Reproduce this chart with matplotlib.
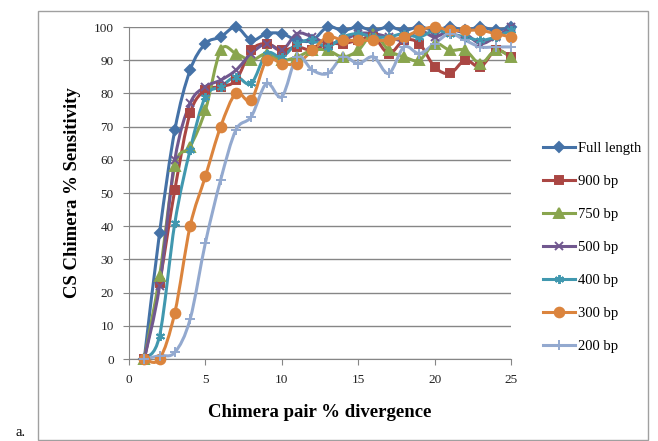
import numpy as np
import matplotlib
matplotlib.use("Agg")
import matplotlib.pyplot as plt
from matplotlib.path import Path
from matplotlib.patches import PathPatch, Rectangle
from matplotlib.lines import Line2D

# chimera pair % divergence (x) and sensitivity per read length
divergence = list(range(1, 26))
full_length = [0, 38, 69, 87, 95, 97, 100, 96, 98, 98, 96, 96, 100, 99, 100, 99, 100, 99, 100, 99, 100, 99, 100, 99, 100]
bp900 = [0, 23, 51, 74, 81, 82, 84, 93, 95, 93, 94, 93, 95, 95, 96, 97, 92, 96, 95, 88, 86, 90, 88, 93, 91]
bp750 = [0, 25, 58, 64, 75, 93, 92, 90, 92, 90, 91, 93, 93, 91, 93, 98, 93, 91, 90, 95, 93, 93, 89, 93, 91]
bp500 = [0, 22, 60, 77, 82, 84, 87, 92, 95, 93, 98, 97, 95, 96, 98, 98, 97, 96, 99, 97, 99, 98, 95, 97, 100]
bp400 = [0, 7, 41, 63, 79, 82, 85, 83, 92, 91, 95, 96, 94, 97, 98, 97, 97, 98, 97, 99, 98, 97, 96, 97, 99]
bp300 = [0, 0, 14, 40, 55, 70, 80, 78, 90, 89, 89, 93, 97, 96, 96, 96, 96, 97, 99, 100, 99, 99, 99, 98, 97]
bp200 = [0, 1, 2, 12, 35, 54, 69, 73, 83, 79, 91, 87, 86, 91, 89, 91, 86, 94, 92, 95, 98, 96, 94, 94, 94]

labels = ["Full length", "900 bp", "750 bp", "500 bp", "400 bp", "300 bp", "200 bp"]
values = [full_length, bp900, bp750, bp500, bp400, bp300, bp200]
colors = ["#4572A7", "#AA4643", "#89A54E", "#71588F", "#4198AF", "#DB843D", "#93A9CF"]
markers = ["D", "s", "^", "x", (6, 2, 0), "o", "+"]
msizes = [5, 6, 6.5, 6, 6.5, 7, 7]


def smooth_path(xs, ys):
    # excel-style smoothed line (cubic bezier through the points)
    pts = np.column_stack([xs, ys]).astype(float)
    n = len(pts)
    verts = [pts[0]]
    codes = [Path.MOVETO]
    for i in range(n - 1):
        p0 = pts[i - 1] if i > 0 else pts[i]
        p1 = pts[i]
        p2 = pts[i + 1]
        p3 = pts[i + 2] if i + 2 < n else pts[i + 1]
        verts += [p1 + (p2 - p0) / 6, p2 - (p3 - p1) / 6, p2]
        codes += [Path.CURVE4] * 3
    return Path(verts, codes)


plt.rcParams['font.family'] = ['Liberation Serif', 'DejaVu Serif']

fig = plt.figure(figsize=(6.58, 4.41), dpi=100)
ax = fig.add_axes([129 / 658, 1 - 359 / 441, 382 / 658, 332 / 441])

grey = "#868686"
handles = []
for lab, vals, col, mk, ms in zip(labels, values, colors, markers, msizes):
    ax.add_patch(PathPatch(smooth_path(divergence, vals), fill=False, edgecolor=col,
                           lw=2.2, clip_on=False, zorder=3))
    ax.plot(divergence, vals, ls="none", marker=mk, ms=ms, color=col, mec=col,
            mew=1.4, clip_on=False, zorder=4)
    handles.append(Line2D([], [], color=col, lw=2.2, marker=mk, ms=ms, mec=col, mew=1.4))

ax.set_xlim(0, 25)
ax.set_ylim(0, 100)
ax.set_xticks(range(0, 26, 5))
ax.set_yticks(range(0, 101, 10))
ax.yaxis.grid(True, color=grey, lw=1)
ax.set_axisbelow(True)
for s in ["top", "right"]:
    ax.spines[s].set_visible(False)
for s in ["left", "bottom"]:
    ax.spines[s].set_color(grey)
ax.tick_params(direction="out", length=4, color=grey, labelsize=9.5, pad=7, labelcolor="#222222")

ax.set_xlabel("Chimera pair % divergence", fontsize=13.5, fontweight="bold", labelpad=13)
ax.set_ylabel("CS Chimera % Sensitivity", fontsize=13.5, fontweight="bold", labelpad=9)

fig.legend(handles, labels, loc="upper left", bbox_to_anchor=(537 / 658, 1 - 136 / 441),
           frameon=False, fontsize=10.5, handlelength=2.2, handletextpad=0.2,
           labelspacing=1.36, borderaxespad=0)

fig.patches.append(Rectangle((38 / 658, 0.002), 610 / 658, 1 - 11 / 441 - 0.002,
                             transform=fig.transFigure, fill=False, ec="#a0a0a0", lw=1))
fig.text(15 / 658, 1 - 432 / 441, "a.", fontsize=10.5, va="center")

fig.savefig("out.png", dpi=100)
